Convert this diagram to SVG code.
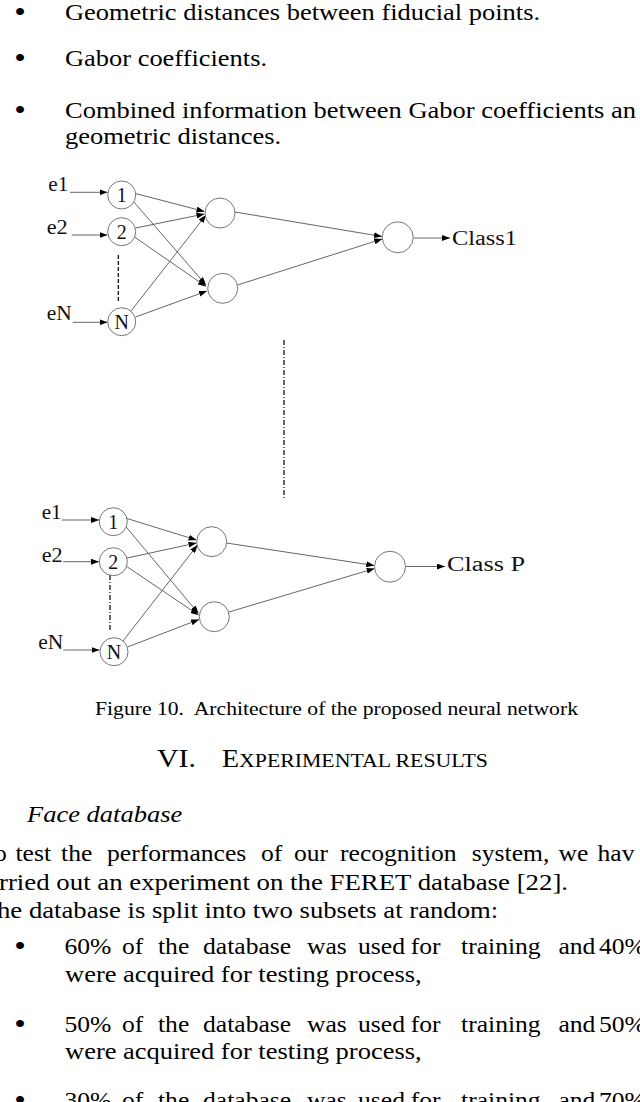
<svg xmlns="http://www.w3.org/2000/svg" width="640" height="1102" viewBox="0 0 640 1102">
<style>
.body{font-family:"Liberation Serif","Times New Roman",serif;font-size:24px;fill:#000}
.bul{font-size:30px}
.just{font-size:23.2px}
.lbl{font-family:"Liberation Serif","Times New Roman",serif;font-size:20px;fill:#111}
.node{fill:#fff;stroke:#777;stroke-width:1}
.edge{stroke:#555;stroke-width:0.9;fill:none}
</style>
<defs>
<marker id="ah" markerUnits="userSpaceOnUse" markerWidth="8" markerHeight="6" refX="8" refY="3" orient="auto">
<path d="M0,0 L8,3 L0,6 z" fill="#000"/>
</marker>
</defs>
<rect width="640" height="1102" fill="#fff"/>

<g transform="scale(1.104,1)" class="body">
<text class="bul" x="12.9" y="22">•</text>
<text x="58.88" y="20" textLength="430.3" lengthAdjust="spacingAndGlyphs">Geometric distances between fiducial points.</text>
<text class="bul" x="12.9" y="68">•</text>
<text x="58.88" y="66" textLength="183" lengthAdjust="spacingAndGlyphs">Gabor coefficients.</text>
<text class="bul" x="12.9" y="120">•</text>
<text x="58.88" y="118">Combined information between Gabor coefficients an</text>
<text x="58.88" y="144">geometric distances.</text>

<text x="86.05" y="715" font-size="19" textLength="437.5" lengthAdjust="spacingAndGlyphs" style="white-space:pre">Figure 10.  Architecture of the proposed neural network</text>
<text x="142.2" y="767" font-size="25" textLength="35.3" lengthAdjust="spacingAndGlyphs">VI.</text>
<text x="201.1" y="767" font-size="25" textLength="240.9" lengthAdjust="spacingAndGlyphs">E<tspan font-size="19.5">XPERIMENTAL RESULTS</tspan></text>
<text x="24.5" y="822" font-style="italic">Face database</text>

<text class="just" y="861"><tspan x="-5.4">o</tspan><tspan x="14">test</tspan><tspan x="55.3">the</tspan><tspan x="96.9">performances</tspan><tspan x="236.4">of</tspan><tspan x="266.3">our</tspan><tspan x="308">recognition</tspan><tspan x="427.4">system,</tspan><tspan x="506">we</tspan><tspan x="541.2">hav</tspan></text>
<text x="-0.9" y="890" textLength="515.4" lengthAdjust="spacingAndGlyphs">rried out an experiment on the FERET database [22].</text>
<text x="-2.7" y="918" textLength="454" lengthAdjust="spacingAndGlyphs">he database is split into two subsets at random:</text>

<text class="bul" x="12.9" y="956">•</text>
<text class="just" y="954"><tspan x="58.4">60%</tspan><tspan x="110.5">of</tspan><tspan x="143.1">the</tspan><tspan x="183.9">database</tspan><tspan x="278.1">was</tspan><tspan x="324.3">used</tspan><tspan x="372">for</tspan><tspan x="417.6">training</tspan><tspan x="505.8">and</tspan><tspan x="542.5">40%</tspan></text>
<text x="58.88" y="982">were acquired for testing process,</text>

<text class="bul" x="12.9" y="1034">•</text>
<text class="just" y="1032"><tspan x="58.4">50%</tspan><tspan x="110.5">of</tspan><tspan x="143.1">the</tspan><tspan x="183.9">database</tspan><tspan x="278.1">was</tspan><tspan x="324.3">used</tspan><tspan x="372">for</tspan><tspan x="417.6">training</tspan><tspan x="505.8">and</tspan><tspan x="542.5">50%</tspan></text>
<text x="58.88" y="1059">were acquired for testing process,</text>

<text class="bul" x="12.9" y="1110">•</text>
<text class="just" y="1108"><tspan x="58.4">30%</tspan><tspan x="110.5">of</tspan><tspan x="143.1">the</tspan><tspan x="183.9">database</tspan><tspan x="278.1">was</tspan><tspan x="324.3">used</tspan><tspan x="372">for</tspan><tspan x="417.6">training</tspan><tspan x="505.8">and</tspan><tspan x="542.5">70%</tspan></text>
</g>

<g id="connectors">
<!-- top network -->
<line class="edge" x1="70" y1="192.3" x2="107.5" y2="192.3" marker-end="url(#ah)"/>
<line class="edge" x1="71.7" y1="235" x2="107.5" y2="235" marker-end="url(#ah)"/>
<line class="edge" x1="72.7" y1="322.3" x2="107.5" y2="322.3" marker-end="url(#ah)"/>
<line x1="118.3" y1="255" x2="118.3" y2="303" stroke="#000" stroke-width="1.2" stroke-dasharray="4 2"/>
<line class="edge" x1="135.5" y1="193.5" x2="204.5" y2="211.5" marker-end="url(#ah)"/>
<line class="edge" x1="133" y1="201" x2="206" y2="285" marker-end="url(#ah)"/>
<line class="edge" x1="135.5" y1="228" x2="204.5" y2="214" marker-end="url(#ah)"/>
<line class="edge" x1="134.5" y1="237" x2="206" y2="286.5" marker-end="url(#ah)"/>
<line class="edge" x1="131" y1="311" x2="206" y2="215" marker-end="url(#ah)"/>
<line class="edge" x1="135.5" y1="317" x2="207" y2="291" marker-end="url(#ah)"/>
<line class="edge" x1="235" y1="212" x2="382" y2="236.5" marker-end="url(#ah)"/>
<line class="edge" x1="237.5" y1="285" x2="382.2" y2="239" marker-end="url(#ah)"/>
<line class="edge" x1="413.5" y1="238" x2="450" y2="238" marker-end="url(#ah)"/>
<!-- middle separator -->
<line x1="284" y1="340" x2="284" y2="500" stroke="#000" stroke-width="1.2" stroke-dasharray="5 2 1 2"/>
<!-- bottom network -->
<line class="edge" x1="61.7" y1="520" x2="99" y2="520" marker-end="url(#ah)"/>
<line class="edge" x1="63.3" y1="561.7" x2="99" y2="561.7" marker-end="url(#ah)"/>
<line class="edge" x1="63.3" y1="650" x2="99.5" y2="650" marker-end="url(#ah)"/>
<line x1="110" y1="575" x2="110" y2="630" stroke="#000" stroke-width="1.2" stroke-dasharray="5 2 1 2"/>
<line class="edge" x1="127" y1="518.5" x2="196.5" y2="540" marker-end="url(#ah)"/>
<line class="edge" x1="124.5" y1="525" x2="198.5" y2="613.5" marker-end="url(#ah)"/>
<line class="edge" x1="127" y1="558" x2="196.5" y2="543" marker-end="url(#ah)"/>
<line class="edge" x1="126" y1="566" x2="198.5" y2="615" marker-end="url(#ah)"/>
<line class="edge" x1="123" y1="641" x2="197.5" y2="545" marker-end="url(#ah)"/>
<line class="edge" x1="127.5" y1="647" x2="199" y2="619.5" marker-end="url(#ah)"/>
<line class="edge" x1="226.5" y1="543" x2="374.3" y2="565.5" marker-end="url(#ah)"/>
<line class="edge" x1="229" y1="612" x2="374.6" y2="568.5" marker-end="url(#ah)"/>
<line class="edge" x1="405.5" y1="566.5" x2="445" y2="566.5" marker-end="url(#ah)"/>
</g>

<!-- top network nodes -->
<g id="t-e1"><text class="lbl" x="48.3" y="191" textLength="20" lengthAdjust="spacingAndGlyphs">e1</text></g>
<g id="t-e2"><text class="lbl" x="46.7" y="234" textLength="21" lengthAdjust="spacingAndGlyphs">e2</text></g>
<g id="t-eN"><text class="lbl" x="46.7" y="320" textLength="25" lengthAdjust="spacingAndGlyphs">eN</text></g>
<g id="t-in1"><circle class="node" cx="121.7" cy="195" r="14"/><text class="lbl" x="121.7" y="202" text-anchor="middle">1</text></g>
<g id="t-in2"><circle class="node" cx="121.7" cy="231.7" r="14"/><text class="lbl" x="121.7" y="238.7" text-anchor="middle">2</text></g>
<g id="t-inN"><circle class="node" cx="121.7" cy="321.7" r="14"/><text class="lbl" x="121.7" y="328.7" text-anchor="middle">N</text></g>
<g id="t-h1"><circle class="node" cx="220" cy="213" r="15"/></g>
<g id="t-h2"><circle class="node" cx="222.7" cy="288.3" r="15"/></g>
<g id="t-out"><circle class="node" cx="397.7" cy="237.3" r="15.5"/></g>
<g id="t-class"><text class="lbl" x="452" y="245" font-size="22" textLength="65" lengthAdjust="spacingAndGlyphs">Class1</text></g>

<!-- bottom network nodes -->
<g id="b-e1"><text class="lbl" x="41.7" y="519" textLength="20" lengthAdjust="spacingAndGlyphs">e1</text></g>
<g id="b-e2"><text class="lbl" x="41.7" y="562" textLength="21" lengthAdjust="spacingAndGlyphs">e2</text></g>
<g id="b-eN"><text class="lbl" x="38.3" y="649" textLength="25" lengthAdjust="spacingAndGlyphs">eN</text></g>
<g id="b-in1"><circle class="node" cx="113.3" cy="521.7" r="14"/><text class="lbl" x="113.3" y="528.7" text-anchor="middle">1</text></g>
<g id="b-in2"><circle class="node" cx="113.3" cy="561.7" r="14"/><text class="lbl" x="113.3" y="568.7" text-anchor="middle">2</text></g>
<g id="b-inN"><circle class="node" cx="114" cy="651.7" r="14"/><text class="lbl" x="114" y="658.7" text-anchor="middle">N</text></g>
<g id="b-h1"><circle class="node" cx="211.7" cy="541.7" r="15"/></g>
<g id="b-h2"><circle class="node" cx="214.3" cy="616.7" r="15"/></g>
<g id="b-out"><circle class="node" cx="390" cy="566.7" r="15.5"/></g>
<g id="b-class"><text class="lbl" x="447" y="571" font-size="22" textLength="78" lengthAdjust="spacingAndGlyphs">Class P</text></g>
</svg>
